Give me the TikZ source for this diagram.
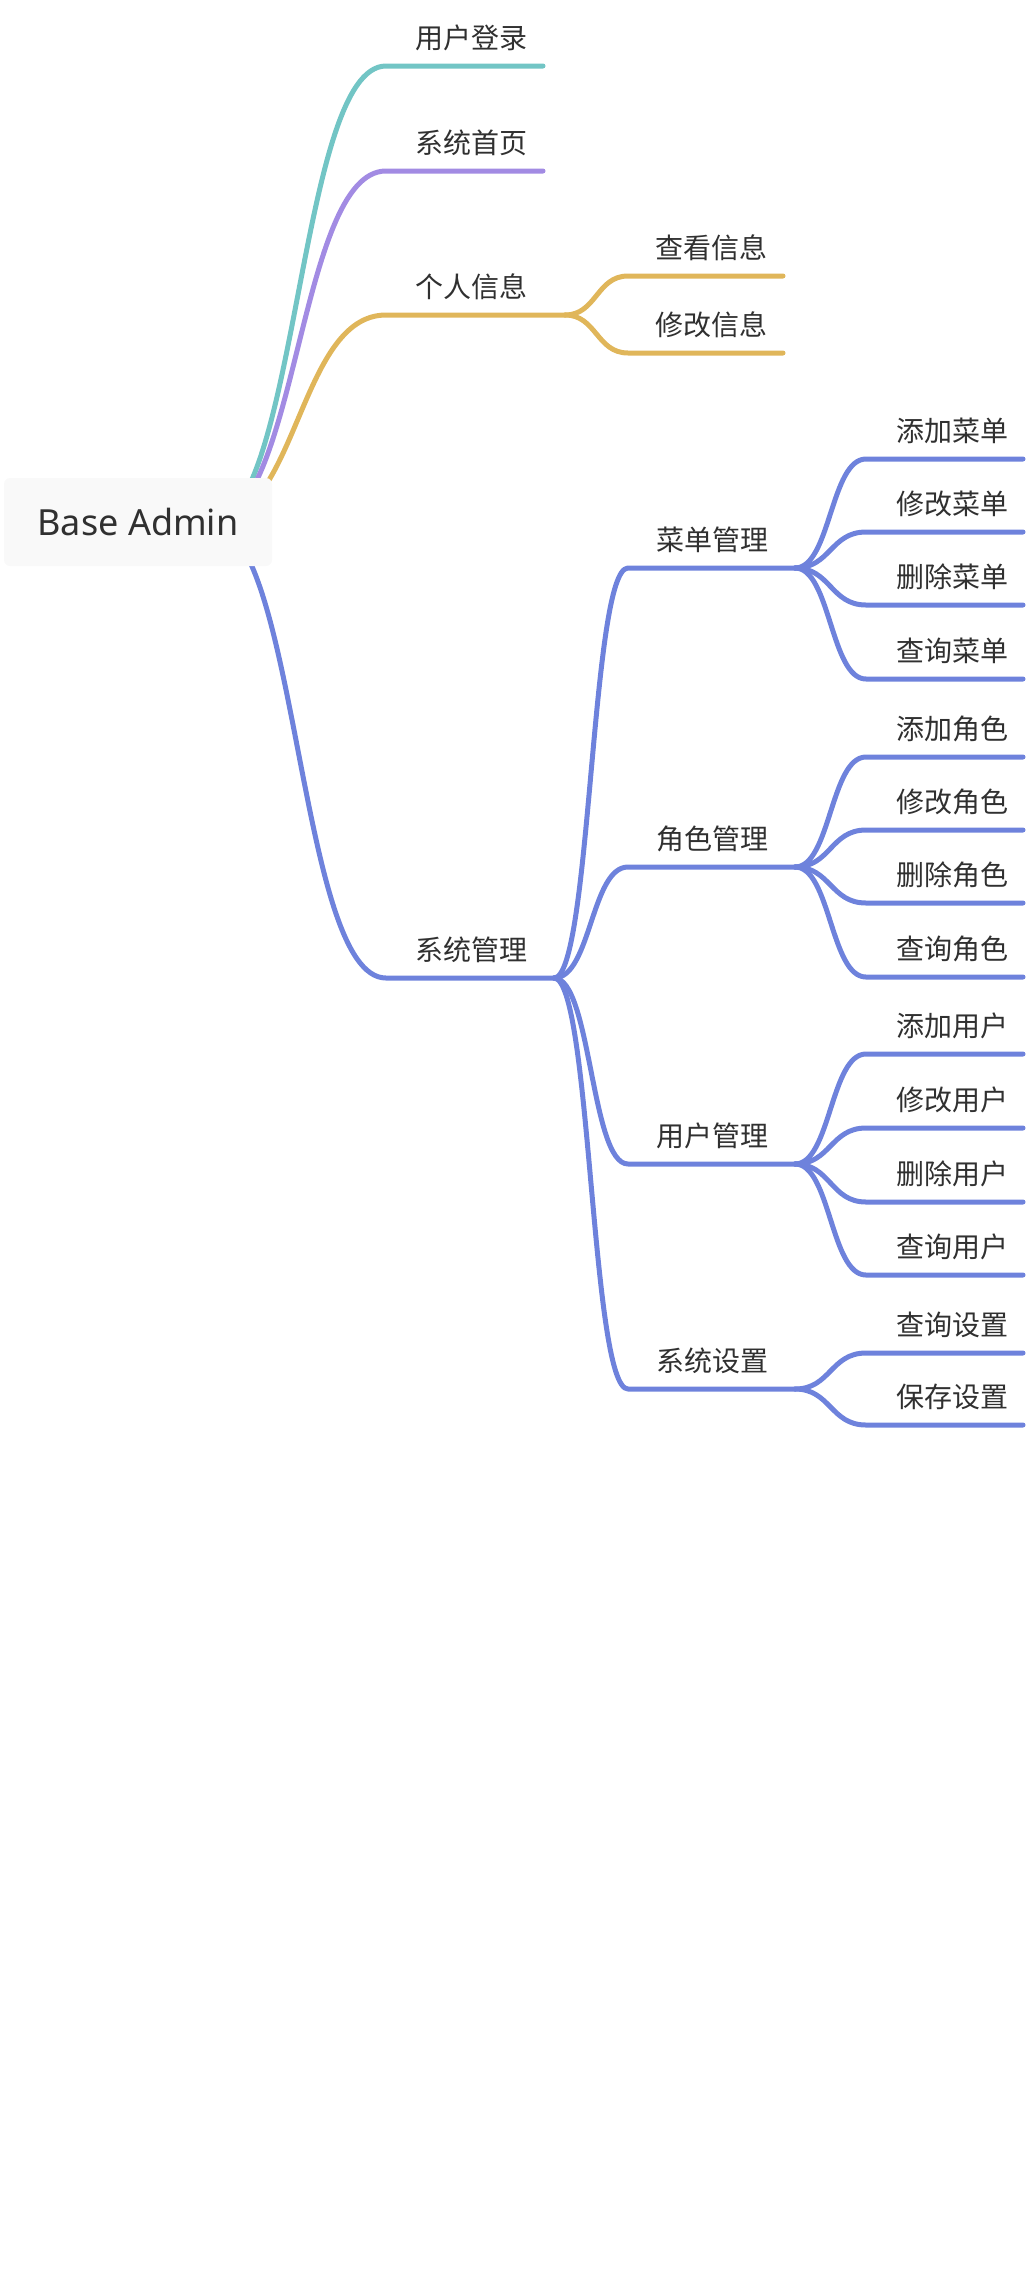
\documentclass[tikz,border=0pt]{standalone}
\usepackage{fontspec}
\setmainfont{Noto Sans}
\newfontfamily\cjk{Noto Sans CJK SC}
\definecolor{cteal}{HTML}{72C5C5}
\definecolor{cpurple}{HTML}{A28BE3}
\definecolor{cgold}{HTML}{E0B65A}
\definecolor{cblue}{HTML}{6E82DC}
\definecolor{txt}{HTML}{303030}
\definecolor{rootbg}{RGB}{249,249,249}
\tikzset{
  lnk/.style={line width=5pt, line cap=round, line join=round},
  lbl/.style={anchor=base west, inner sep=0pt, text=txt, font=\cjk\fontsize{28}{28}\selectfont},
  rootbox/.style={fill=rootbg, rounded corners=6pt, minimum width=268pt, minimum height=88pt, inner sep=0pt, text=txt, font=\fontsize{36}{36}\selectfont},
}
\begin{document}
\begin{tikzpicture}[x=1pt,y=-1pt]
\useasboundingbox (0,0) rectangle (1028,2284);
% ---------- anchor points ----------
\coordinate (root) at (210,523);
% level 2
\coordinate (a1s) at (386,66);  \coordinate (a1e) at (543,66);
\coordinate (a2s) at (386,171); \coordinate (a2e) at (543,171);
\coordinate (a3s) at (386,315); \coordinate (a3e) at (565,315);
\coordinate (a4s) at (386,978); \coordinate (a4e) at (554,978);
% level 3 (gold)
\coordinate (g1s) at (628,276); \coordinate (g1e) at (783,276);
\coordinate (g2s) at (628,353); \coordinate (g2e) at (783,353);
% level 3 (blue)
\coordinate (b1s) at (628,568);  \coordinate (b1e) at (795,568);
\coordinate (b2s) at (628,867);  \coordinate (b2e) at (795,867);
\coordinate (b3s) at (628,1164); \coordinate (b3e) at (795,1164);
\coordinate (b4s) at (628,1389); \coordinate (b4e) at (795,1389);
% level 4
\foreach \n/\y in {m1/459,m2/532,m3/605,m4/679,r1/757,r2/830,r3/903,r4/977,u1/1054,u2/1128,u3/1202,u4/1275,s1/1353,s2/1425}{
  \coordinate (\n s) at (866,\y); \coordinate (\n e) at (1023,\y);
}
% ---------- connectors ----------
\draw[lnk,cteal]   (root) .. controls +(88,0) and +(-88,0) .. (a1s) -- (a1e);
\draw[lnk,cpurple] (root) .. controls +(88,0) and +(-88,0) .. (a2s) -- (a2e);
\draw[lnk,cgold]   (root) .. controls +(88,0) and +(-88,0) .. (a3s) -- (a3e);
\draw[lnk,cblue]   (root) .. controls +(88,0) and +(-88,0) .. (a4s) -- (a4e);
\foreach \c in {g1,g2}{
  \draw[lnk,cgold] (a3e) .. controls +(31.5,0) and +(-31.5,0) .. (\c s) -- (\c e);
}
\foreach \c in {b1,b2,b3,b4}{
  \draw[lnk,cblue] (a4e) .. controls +(37,0) and +(-37,0) .. (\c s) -- (\c e);
}
\foreach \p/\cs in {b1/{m1,m2,m3,m4},b2/{r1,r2,r3,r4},b3/{u1,u2,u3,u4},b4/{s1,s2}}{
  \foreach \c in \cs {
    \draw[lnk,cblue] (\p e) .. controls +(35.5,0) and +(-35.5,0) .. (\c s) -- (\c e);
  }
}
% ---------- root ----------
\node[rootbox] (rootn) at (138,522) {Base Admin};
% ---------- labels ----------
\node[lbl] (t-a1) at ([shift={(29,-18)}]a1s) {用户登录};
\node[lbl] (t-a2) at ([shift={(29,-18)}]a2s) {系统首页};
\node[lbl] (t-a3) at ([shift={(29,-18)}]a3s) {个人信息};
\node[lbl] (t-a4) at ([shift={(29,-18)}]a4s) {系统管理};
\node[lbl] (t-g1) at ([shift={(27,-18)}]g1s) {查看信息};
\node[lbl] (t-g2) at ([shift={(27,-18)}]g2s) {修改信息};
\node[lbl] (t-b1) at ([shift={(28,-18)}]b1s) {菜单管理};
\node[lbl] (t-b2) at ([shift={(28,-18)}]b2s) {角色管理};
\node[lbl] (t-b3) at ([shift={(28,-18)}]b3s) {用户管理};
\node[lbl] (t-b4) at ([shift={(28,-18)}]b4s) {系统设置};
\foreach \n/\t in {m1/添加菜单,m2/修改菜单,m3/删除菜单,m4/查询菜单,r1/添加角色,r2/修改角色,r3/删除角色,r4/查询角色,u1/添加用户,u2/修改用户,u3/删除用户,u4/查询用户,s1/查询设置,s2/保存设置}{
  \node[lbl] (t-\n) at ([shift={(30,-18)}]\n s) {\t};
}
\end{tikzpicture}
\end{document}
